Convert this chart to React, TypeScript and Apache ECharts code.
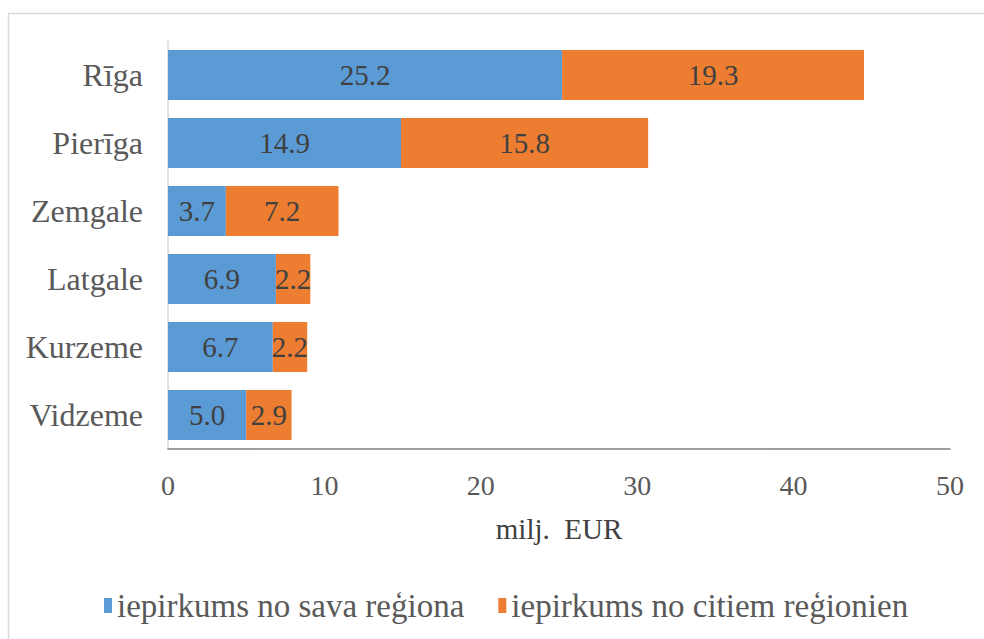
import React, { useEffect, useRef } from "react";
import * as echarts from "echarts";

const categories = ["Rīga", "Pierīga", "Zemgale", "Latgale", "Kurzeme", "Vidzeme"];
const ownRegion = [25.2, 14.9, 3.7, 6.9, 6.7, 5.0];
const otherRegions = [19.3, 15.8, 7.2, 2.2, 2.2, 2.9];
const seriesNames = ["iepirkums no sava reģiona", "iepirkums no citiem reģionien"];
const axisName = "milj.  EUR";

const FONT = "Liberation Serif";

export default function App() {
  const ref = useRef<HTMLDivElement>(null);
  useEffect(() => {
    if (!ref.current) return;
    const chart = echarts.init(ref.current, undefined, { renderer: "svg" });
    const labelStyle = {
      show: true,
      position: "inside" as const,
      fontSize: 29,
      fontFamily: FONT,
      color: "#404040",
      formatter: (p: any) => Number(p.value).toFixed(1),
    };
    chart.setOption({
      animation: false,
      backgroundColor: "#ffffff",
      textStyle: { fontFamily: FONT },
      graphic: [
        {
          type: "rect",
          shape: { x: 8.5, y: 13.5, width: 1000, height: 700 },
          style: { fill: "none", stroke: "#d9d9d9", lineWidth: 1.5 },
          silent: true,
          z: -1,
        },
      ],
      grid: { left: 168, right: 34, top: 41, bottom: 190, containLabel: false },
      xAxis: {
        type: "value",
        min: 0,
        max: 50,
        interval: 10,
        name: axisName,
        nameLocation: "middle",
        nameGap: 65,
        nameTextStyle: { fontSize: 29, color: "#404040", fontFamily: FONT },
        axisLine: { show: true, lineStyle: { color: "#808080", width: 1.5 } },
        axisTick: { show: false },
        splitLine: { show: false },
        axisLabel: { fontSize: 28, color: "#595959", fontFamily: FONT, margin: 22 },
      },
      yAxis: {
        type: "category",
        data: categories,
        inverse: true,
        axisLine: { show: true, lineStyle: { color: "#d9d9d9", width: 1.5 } },
        axisTick: { show: false },
        axisLabel: { fontSize: 32, color: "#595959", fontFamily: FONT, margin: 25 },
      },
      legend: {
        bottom: 12,
        left: 99,
        icon: "rect",
        itemWidth: 8,
        itemHeight: 15,
        itemGap: 34,
        textStyle: { fontSize: 33, color: "#595959", fontFamily: FONT },
        data: seriesNames,
      },
      series: [
        {
          name: seriesNames[0],
          type: "bar",
          stack: "total",
          data: ownRegion,
          barWidth: 50,
          itemStyle: { color: "#5B9BD5" },
          label: labelStyle,
        },
        {
          name: seriesNames[1],
          type: "bar",
          stack: "total",
          data: otherRegions,
          barWidth: 50,
          itemStyle: { color: "#ED7D31" },
          label: labelStyle,
        },
      ],
    });
    return () => chart.dispose();
  }, []);
  return (
    <div
      ref={ref}
      style={{ position: "fixed", left: 0, top: 0, width: 984, height: 639 }}
    />
  );
}
